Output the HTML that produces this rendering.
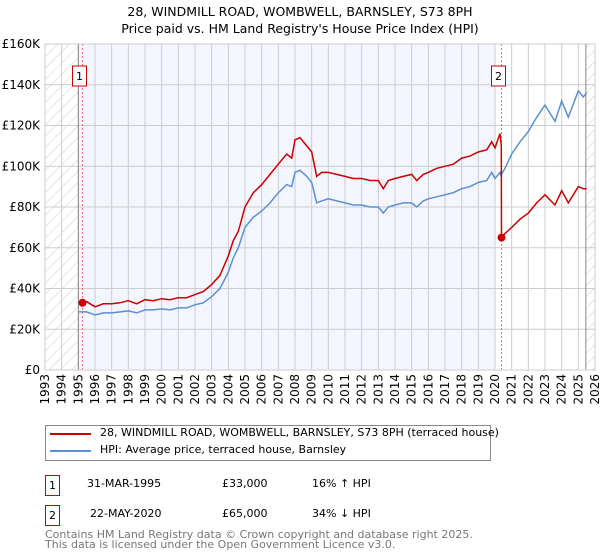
<!DOCTYPE html>
<html><head><meta charset="utf-8"><style>
body{margin:0;background:#fff;font-family:"DejaVu Sans","Liberation Sans",sans-serif;}
#wrap{position:relative;width:600px;height:560px;overflow:hidden}
.t{position:absolute;font-size:12px;color:#000;white-space:nowrap}
</style></head><body>
<div id="wrap">
<div class="t" style="left:0;width:600px;text-align:center;top:4px;font-size:12.5px">28, WINDMILL ROAD, WOMBWELL, BARNSLEY, S73 8PH</div>
<div class="t" style="left:0;width:600px;text-align:center;top:21px;font-size:12.5px">Price paid vs. HM Land Registry's House Price Index (HPI)</div>
<svg id="chart" width="600" height="420" style="position:absolute;left:0;top:0">
<defs><pattern id="hatch" patternUnits="userSpaceOnUse" width="8" height="8" patternTransform="rotate(45)"><line x1="0" y1="0" x2="0" y2="8" stroke="#ccc" stroke-width="1"/></pattern></defs>
</svg>
<div style="position:absolute;left:45px;top:425px;width:444px;height:34px;border:1px solid #888"></div>
<div style="position:absolute;left:50px;top:433px;width:41px;height:2px;background:#cc0000"></div>
<div class="t" style="left:100px;top:426px;font-size:11px">28, WINDMILL ROAD, WOMBWELL, BARNSLEY, S73 8PH (terraced house)</div>
<div style="position:absolute;left:50px;top:450px;width:41px;height:2px;background:#5b8fd4"></div>
<div class="t" style="left:100px;top:443px;font-size:11px">HPI: Average price, terraced house, Barnsley</div>
<div style="position:absolute;left:45px;top:475px;width:13px;height:19px;border:1px solid #cc0000;font-size:11px;text-align:center;line-height:19px">1</div>
<div class="t" style="left:87px;top:477px;font-size:11px">31-MAR-1995</div>
<div class="t" style="left:222px;top:477px;font-size:11px">£33,000</div>
<div class="t" style="left:312px;top:477px;font-size:11px">16% ↑ HPI</div>
<div style="position:absolute;left:45px;top:505px;width:13px;height:19px;border:1px solid #cc0000;font-size:11px;text-align:center;line-height:19px">2</div>
<div class="t" style="left:90px;top:507px;font-size:11px">22-MAY-2020</div>
<div class="t" style="left:222px;top:507px;font-size:11px">£65,000</div>
<div class="t" style="left:312px;top:507px;font-size:11px">34% ↓ HPI</div>
<div class="t" style="left:45px;top:530px;font-size:11px;color:#777;line-height:10px">Contains HM Land Registry data © Crown copyright and database right 2025.<br>This data is licensed under the Open Government Licence v3.0.</div>
</div>
<script>
const years=[1995.0,1995.5,1996.0,1996.5,1997.0,1997.5,1998.0,1998.5,1999.0,1999.5,2000.0,2000.5,2001.0,2001.5,2002.0,2002.5,2003.0,2003.5,2004.0,2004.3,2004.6,2005.0,2005.5,2006.0,2006.5,2007.0,2007.5,2007.8,2008.0,2008.3,2008.7,2009.0,2009.3,2009.6,2010.0,2010.5,2011.0,2011.5,2012.0,2012.5,2013.0,2013.3,2013.6,2014.0,2014.5,2015.0,2015.3,2015.7,2016.0,2016.5,2017.0,2017.5,2018.0,2018.5,2019.0,2019.5,2019.8,2020.0,2020.3,2020.38,2020.39,2020.6,2021.0,2021.5,2022.0,2022.5,2023.0,2023.6,2024.0,2024.4,2025.0,2025.3,2025.5];
const hpi=[28.5,28.5,27,28,28,28.5,29,28,29.5,29.5,30,29.5,30.5,30.5,32,33,36,40,48,55,60,70,75,78,82,87,91,90,97,98,95,92,82,83,84,83,82,81,81,80,80,77,80,81,82,82,80,83,84,85,86,87,89,90,92,93,97,94,97,95,96,99,106,112,117,124,130,122,132,124,137,134,136];
const price=[33,33.5,31,32.5,32.5,33,34,32.5,34.5,34,35,34.5,35.5,35.5,37,38.5,42,46.5,56,63.5,68,80,87,91,96,101,106,104,113,114,110,107,95,97,97,96,95,94,94,93,93,89,93,94,95,96,93,96,97,99,100,101,104,105,107,108,112,109,116,110,65,67,70,74,77,82,86,81,88,82,90,89,89];
const yTicks=[0,20,40,60,80,100,120,140,160];
const yLabels=["£0","£20K","£40K","£60K","£80K","£100K","£120K","£140K","£160K"];
const xTicks=[1993,1994,1995,1996,1997,1998,1999,2000,2001,2002,2003,2004,2005,2006,2007,2008,2009,2010,2011,2012,2013,2014,2015,2016,2017,2018,2019,2020,2021,2022,2023,2024,2025,2026];
const saleYears=[1995.25,2020.39];
const salePrices=[33,65];
const saleLabels=["1","2"];
const X=y=>45+(y-1993)*(550/33);
const Y=v=>370-v*(326/160);
const svg=document.getElementById('chart');
const NS='http://www.w3.org/2000/svg';
function mk(tag,at){const e=document.createElementNS(NS,tag);for(const k in at)e.setAttribute(k,at[k]);svg.appendChild(e);return e;}
let e;
e=mk('rect',{x:X(1995),y:44,width:X(2020.0)-X(1995),height:326,fill:'#f3f6fe'});


e=mk('rect',{x:45,y:44,width:X(1995)-45,height:326,fill:'url(#hatch)'});


e=mk('rect',{x:X(2025.45),y:44,width:595-X(2025.45),height:326,fill:'url(#hatch)'});


yTicks.forEach((v,i)=>{
 e=mk('line',{x1:45,x2:595,y1:Y(v),y2:Y(v),stroke:'#ccc','stroke-width':1});
 
 
 e=mk('text',{x:40,y:Y(v)+4,'text-anchor':'end','font-size':12,'font-family':'DejaVu Sans, Liberation Sans, sans-serif'});
 e.textContent=yLabels[i];
 
 
});
xTicks.forEach(t=>{
 e=mk('line',{x1:X(t),x2:X(t),y1:44,y2:370,stroke:'#ccc','stroke-width':1});
 
 
 e=mk('text',{x:0,y:0,'text-anchor':'end','font-size':12,'font-family':'DejaVu Sans, Liberation Sans, sans-serif',transform:`translate(${X(t)+4},374) rotate(-90)`});
 e.textContent=t;
 
 
});
e=mk('line',{x1:X(1995),x2:X(1995),y1:44,y2:370,stroke:'#888','stroke-width':1});


e=mk('line',{x1:X(2025.45),x2:X(2025.45),y1:44,y2:370,stroke:'#888','stroke-width':1});


saleYears.forEach((s,i)=>{
 e=mk('line',{x1:X(s),x2:X(s),y1:44,y2:370,stroke:'#f07070','stroke-width':1,'stroke-dasharray':'2,2'});
 
 
});
const pts=a=>years.map((y,i)=>X(y).toFixed(1)+','+Y(a[i]).toFixed(1)).join(' ');
e=mk('polyline',{points:pts(hpi),fill:'none',stroke:'#5b8fd4','stroke-width':1.5});


e=mk('polyline',{points:pts(price),fill:'none',stroke:'#cc0000','stroke-width':1.5});


saleYears.forEach((s,i)=>{
 e=mk('circle',{cx:X(s),cy:Y(salePrices[i]),r:4,fill:'#cc0000'});
 
 
 e=mk('rect',{x:X(s)-10,y:66,width:14,height:20,fill:'#fff',stroke:'#cc0000'});
 
 
 e=mk('text',{x:X(s)-3,y:80,'text-anchor':'middle','font-size':11,'font-family':'DejaVu Sans, sans-serif'});
 e.textContent=saleLabels[i];
 
 
});
e=mk('rect',{x:45,y:44,width:550,height:326,fill:'none',stroke:'#ccc'});


</script>
</body></html>
